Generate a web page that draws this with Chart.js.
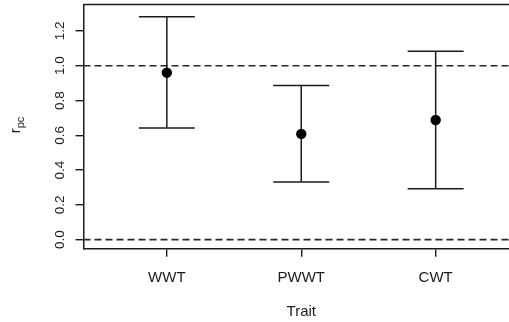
<!DOCTYPE html>
<html>
<head>
<meta charset="utf-8">
<script src="https://cdn.jsdelivr.net/npm/chart.js@4"></script>
<style>
  html, body { margin: 0; padding: 0; background: #fff; overflow: hidden; }
  #wrap { width: 509px; height: 322px; overflow: hidden; }
</style>
</head>
<body>
<div id="wrap"><canvas id="c" width="519" height="322"></canvas></div>
<script>
// Trait correlations with their interval bounds
const traits = ['WWT', 'PWWT', 'CWT'];
const rpc = [0.960, 0.608, 0.688];
const lower = [0.642, 0.332, 0.292];
const upper = [1.282, 0.886, 1.083];
const refLines = [0, 1];
const yTicks = [0, 0.2, 0.4, 0.6, 0.8, 1.0, 1.2];

const FONT = '"Liberation Sans", Arial, sans-serif';
const INK = '#1c1c1c';

// Reference lines, error bars, frame top, rotated y labels and subscripted y title
const extras = {
  id: 'extras',
  beforeDatasetsDraw(chart) {
    const { ctx, chartArea: a, scales: { x, y } } = chart;
    ctx.save();
    ctx.strokeStyle = '#2a2a2a';
    ctx.lineWidth = 1.6;
    ctx.setLineDash([7, 4]);
    refLines.forEach(v => {
      const py = y.getPixelForValue(v);
      ctx.beginPath();
      ctx.moveTo(a.left, py);
      ctx.lineTo(a.right, py);
      ctx.stroke();
    });
    ctx.setLineDash([]);
    ctx.strokeStyle = INK;
    ctx.lineWidth = 1.5;
    const cap = 28;
    traits.forEach((t, i) => {
      const px = x.getPixelForValue(i + 1);
      const lo = y.getPixelForValue(lower[i]);
      const hi = y.getPixelForValue(upper[i]);
      ctx.beginPath();
      ctx.moveTo(px, lo); ctx.lineTo(px, hi);
      ctx.moveTo(px - cap, lo); ctx.lineTo(px + cap, lo);
      ctx.moveTo(px - cap, hi); ctx.lineTo(px + cap, hi);
      ctx.stroke();
    });
    // top edge of the plot frame
    ctx.beginPath();
    ctx.moveTo(a.left, a.top);
    ctx.lineTo(a.right, a.top);
    ctx.stroke();
    ctx.restore();
  },
  afterDraw(chart) {
    const { ctx, scales: { y } } = chart;
    ctx.save();
    ctx.fillStyle = INK;
    ctx.font = '13.5px ' + FONT;
    ctx.textAlign = 'center';
    ctx.textBaseline = 'middle';
    y.ticks.forEach((tk, i) => {
      const py = y.getPixelForTick(i);
      ctx.save();
      ctx.translate(60.5, py);
      ctx.rotate(-Math.PI / 2);
      ctx.fillText(tk.value.toFixed(1), 0, 0);
      ctx.restore();
    });
    // y title: r with subscript pc
    ctx.save();
    ctx.translate(20, 125);
    ctx.rotate(-Math.PI / 2);
    ctx.textAlign = 'left';
    ctx.textBaseline = 'alphabetic';
    ctx.font = '15px ' + FONT;
    const rW = ctx.measureText('r').width;
    ctx.font = '11px ' + FONT;
    const sW = ctx.measureText('pc').width;
    const x0 = -(rW + sW) / 2;
    ctx.font = '15px ' + FONT;
    ctx.fillText('r', x0, 0);
    ctx.font = '11px ' + FONT;
    ctx.fillText('pc', x0 + rW, 4);
    ctx.restore();
    ctx.restore();
  }
};

new Chart(document.getElementById('c'), {
  type: 'scatter',
  data: {
    datasets: [{
      data: traits.map((t, i) => ({ x: i + 1, y: rpc[i] })),
      backgroundColor: '#000',
      borderWidth: 0,
      pointRadius: 5.2,
      pointHoverRadius: 5.2
    }]
  },
  options: {
    responsive: false,
    devicePixelRatio: 1,
    animation: false,
    events: [],
    layout: { autoPadding: false, padding: { top: 4.5, right: 0, bottom: 0, left: 0 } },
    plugins: { legend: { display: false }, tooltip: { enabled: false } },
    scales: {
      x: {
        type: 'linear',
        min: 0.38,
        max: 3.62,
        afterBuildTicks: s => { s.ticks = traits.map((t, i) => ({ value: i + 1 })); },
        afterFit: s => { s.height = 73.3; },
        ticks: {
          autoSkip: false,
          maxRotation: 0,
          color: INK,
          font: { family: FONT, size: 15 },
          padding: 12,
          callback: v => traits[v - 1]
        },
        grid: { drawOnChartArea: false, drawTicks: true, tickLength: 8, color: INK, lineWidth: 1.4 },
        border: { display: true, color: INK, width: 1.5 },
        title: {
          display: true,
          text: 'Trait',
          color: INK,
          font: { family: FONT, size: 15 },
          padding: { top: 0, bottom: 1 }
        }
      },
      y: {
        min: -0.052,
        max: 1.352,
        afterBuildTicks: s => { s.ticks = yTicks.map(v => ({ value: v })); },
        afterFit: s => { s.width = 83.5; },
        ticks: { display: false },
        grid: { drawOnChartArea: false, drawTicks: true, tickLength: 8, color: INK, lineWidth: 1.4 },
        border: { display: true, color: INK, width: 1.5 }
      }
    }
  },
  plugins: [extras]
});
</script>
</body>
</html>
